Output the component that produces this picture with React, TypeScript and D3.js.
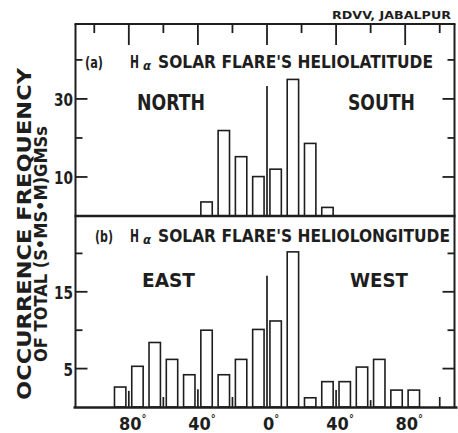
import React from "react";
import * as d3 from "d3";

// ---- DATA ----
const latCenters = [-35, -25, -15, -5, 5, 15, 25, 35];
const latFreq = [3.6, 21.9, 15.2, 10.1, 12, 35, 18.6, 2.2];
const latLinePos = [0];
const latLineVal = [33.3];

const lonCenters = [-85, -75, -65, -55, -45, -35, -25, -15, -5, 5, 15, 25, 35, 45, 55, 65, 75, 85];
const lonFreq = [2.6, 5.3, 8.4, 6.2, 4.2, 10, 4.2, 6.2, 10.1, 11.2, 20.2, 1.2, 3.3, 3.3, 5.2, 6.2, 2.2, 2.2];
const lonLinePos = [-80, -60, -40, -20, 0, 40, 60, 100];
const lonLineVal = [2.1, 1.3, 2.3, 1.3, 17.1, 2.2, 0.9, 1.3];

const topTickVals = [-100, -80, -60, -40, -20, 0, 20, 40, 60, 80, 100];
const xLabelVals = [-80, -40, 0, 40, 80];
const latYTicks = [10, 20, 30, 40];
const latYLabels = [10, 30];
const lonYTicks = [5, 10, 15, 20];
const lonYLabels = [5, 15];

const INK = "#1e1e1e";
const FONT = "'DejaVu Sans Condensed', 'DejaVu Sans', sans-serif";

export default function App() {
  const L = 75.5, R = 454.5, T = 24;
  const x = d3.scaleLinear().domain([-110, 110]).range([77, 457]);
  const yTop = d3.scaleLinear().domain([0, 49.2]).range([216, 24]);
  const yBot = d3.scaleLinear().domain([0, 25]).range([407, 215]);
  const halfW = 3.3;

  const bars = (centers: number[], vals: number[], y: any) =>
    centers.map((c, i) => (
      <rect
        key={"b" + c}
        x={x(c - halfW)}
        y={y(vals[i])}
        width={x(c + halfW) - x(c - halfW)}
        height={y(0) - y(vals[i])}
        fill="#fff"
        stroke={INK}
        strokeWidth={1.6}
      />
    ));
  const lines = (pos: number[], vals: number[], y: any) =>
    pos.map((p, i) => (
      <line key={"l" + p} x1={x(p)} x2={x(p)} y1={y(0)} y2={y(vals[i])} stroke={INK} strokeWidth={1.7} />
    ));

  const yTicks = (vals: number[], labeled: number[], y: any) =>
    vals.map((v) => {
      const major = labeled.includes(v);
      const len = major ? 12 : 7;
      return (
        <g key={"t" + v}>
          <line x1={L} x2={L + len} y1={y(v)} y2={y(v)} stroke={INK} strokeWidth={1.8} />
          <line x1={R - len} x2={R} y1={y(v)} y2={y(v)} stroke={INK} strokeWidth={1.8} />
          {major && (
            <text x={73} y={y(v) + 7} textAnchor="end" fontSize={18} fontWeight="bold" fontFamily={FONT} fill={INK}
              textLength={String(v).length * 9.5} lengthAdjust="spacingAndGlyphs">
              {v}
            </text>
          )}
        </g>
      );
    });

  return (
    <svg width={458} height={433} style={{ position: "absolute", left: 0, top: 0, background: "#fff" }}>
      <rect width={458} height={433} fill="#fff" />
      {/* header */}
      <text x={332} y={19} fontSize={11} fontWeight="bold" fontFamily={FONT} fill={INK} textLength={119} lengthAdjust="spacingAndGlyphs">
        RDVV, JABALPUR
      </text>

      {/* bars & lines */}
      {bars(latCenters, latFreq, yTop)}
      {lines(latLinePos, latLineVal, yTop)}
      {bars(lonCenters, lonFreq, yBot)}
      {lines(lonLinePos, lonLineVal, yBot)}

      {/* frame */}
      <line x1={L - 1} x2={R + 1} y1={T} y2={T} stroke={INK} strokeWidth={2} />
      <line x1={L} x2={L} y1={T} y2={yBot(0)} stroke={INK} strokeWidth={2} />
      <line x1={R} x2={R} y1={T} y2={yBot(0)} stroke={INK} strokeWidth={2} />
      <line x1={L - 1} x2={R + 1} y1={yTop(0)} y2={yTop(0)} stroke={INK} strokeWidth={2.4} />
      <line x1={L - 2} x2={R + 3} y1={yBot(0) + 0.5} y2={yBot(0) + 0.5} stroke={INK} strokeWidth={2.4} />

      {/* top edge ticks */}
      {topTickVals.map((v) => (
        <line key={"tt" + v} x1={x(v)} x2={x(v)} y1={T} y2={T + (v % 40 === 0 ? 21 : 9)} stroke={INK} strokeWidth={1.8} />
      ))}

      {yTicks(latYTicks, latYLabels, yTop)}
      {yTicks(lonYTicks, lonYLabels, yBot)}

      {/* x labels */}
      {xLabelVals.map((v) => (
        <text key={"xl" + v} x={x(v) + 4} y={430} textAnchor="middle" fontSize={18} fontWeight="bold" fontFamily={FONT} fill={INK}>
          {Math.abs(v)}
          <tspan fontSize={11} dy={-8}>°</tspan>
        </text>
      ))}

      {/* panel titles */}
      <g fontFamily={FONT} fontWeight="bold" fill={INK}>
        <text x={85} y={68} fontSize={16} textLength={18} lengthAdjust="spacingAndGlyphs">(a)</text>
        <text x={130} y={68} fontSize={17} textLength={9} lengthAdjust="spacingAndGlyphs">H</text>
        <text x={143} y={70} fontSize={12} fontStyle="italic" textLength={8} lengthAdjust="spacingAndGlyphs">α</text>
        <text x={158} y={68} fontSize={17} textLength={275} lengthAdjust="spacingAndGlyphs">SOLAR FLARE'S HELIOLATITUDE</text>

        <text x={95} y={242} fontSize={16} textLength={18} lengthAdjust="spacingAndGlyphs">(b)</text>
        <text x={130} y={242} fontSize={17} textLength={9} lengthAdjust="spacingAndGlyphs">H</text>
        <text x={143} y={244} fontSize={12} fontStyle="italic" textLength={8} lengthAdjust="spacingAndGlyphs">α</text>
        <text x={158} y={242} fontSize={17} textLength={292} lengthAdjust="spacingAndGlyphs">SOLAR FLARE'S HELIOLONGITUDE</text>

        <text x={137} y={110} fontSize={21} textLength={68} lengthAdjust="spacingAndGlyphs">NORTH</text>
        <text x={348} y={110} fontSize={21} textLength={67} lengthAdjust="spacingAndGlyphs">SOUTH</text>
        <text x={142} y={287} fontSize={19} textLength={53} lengthAdjust="spacingAndGlyphs">EAST</text>
        <text x={350} y={287} fontSize={19} textLength={58} lengthAdjust="spacingAndGlyphs">WEST</text>

        {/* y-axis title */}
        <text transform="translate(31,400) rotate(-90)" fontSize={20} textLength={332} lengthAdjust="spacingAndGlyphs">
          OCCURRENCE FREQUENCY
        </text>
        <text transform="translate(47,362) rotate(-90)" fontSize={18} textLength={236} lengthAdjust="spacingAndGlyphs">
          OF TOTAL (S•MS•M)GMSs
        </text>
      </g>
    </svg>
  );
}
